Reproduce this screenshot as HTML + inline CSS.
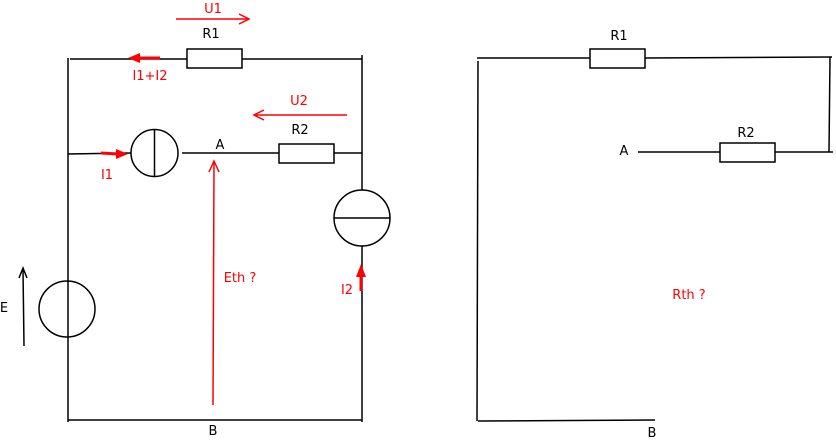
<!DOCTYPE html>
<html><head><meta charset="utf-8"><style>
html,body{margin:0;padding:0;background:#fff;}
svg{display:block;}
text{font-family:"DejaVu Sans","Liberation Sans",sans-serif;font-size:13px;}
</style></head><body>
<svg width="836" height="441" viewBox="0 0 836 441" xmlns="http://www.w3.org/2000/svg">
<g stroke="#000" stroke-width="1.5" fill="none">
<!-- left circuit -->
<line x1="68" y1="58" x2="68" y2="422"/>
<line x1="70" y1="59" x2="187" y2="59"/>
<rect x="187" y="49" width="55" height="19" fill="#fff"/>
<line x1="242" y1="59" x2="362" y2="59"/>
<line x1="362" y1="55" x2="362" y2="190"/>
<line x1="68" y1="154" x2="131" y2="153"/>
<circle cx="154.5" cy="153" r="23.5" fill="#fff"/>
<line x1="154.5" y1="129.5" x2="154.5" y2="176.5"/>
<line x1="182" y1="153" x2="279" y2="153"/>
<rect x="279" y="144" width="55" height="19" fill="#fff"/>
<line x1="334" y1="153" x2="362" y2="153"/>
<circle cx="362" cy="218" r="28" fill="#fff"/>
<line x1="334" y1="218" x2="390" y2="218"/>
<line x1="362" y1="246" x2="362" y2="422"/>
<line x1="68" y1="420" x2="362" y2="420"/>
<circle cx="67" cy="309" r="28" fill="none"/>
<line x1="24" y1="346" x2="23" y2="270"/>
<polyline points="19,278 23,268 27,278"/>
<!-- right circuit -->
<line x1="478" y1="61" x2="477" y2="421"/>
<line x1="477" y1="58" x2="590" y2="58"/>
<rect x="590" y="49" width="55" height="19" fill="#fff"/>
<line x1="645" y1="58" x2="832" y2="57"/>
<line x1="830" y1="57" x2="829" y2="152"/>
<line x1="833" y1="152" x2="775" y2="152"/>
<rect x="720" y="143" width="55" height="19" fill="#fff"/>
<line x1="638" y1="152" x2="720" y2="152"/>
<line x1="478" y1="421" x2="655" y2="420"/>
</g>
<g stroke="#f00" fill="none" stroke-width="1.5">
<line x1="176" y1="19" x2="249" y2="19"/>
<polyline points="239,14 249,19 239,24"/>
<line x1="347" y1="115" x2="254" y2="115"/>
<polyline points="264,110 254,115 264,120"/>
<line x1="213" y1="405" x2="214" y2="162"/>
<polyline points="209,172 214,161 219,172"/>
<line x1="160" y1="58" x2="138" y2="58" stroke-width="3"/>
<line x1="101" y1="153" x2="118" y2="154" stroke-width="3"/>
<line x1="361" y1="291" x2="361" y2="275" stroke-width="3"/>
</g>
<g fill="#f00">
<polygon points="128,58 140,53 140,63"/>
<polygon points="128,154 116,149 116,159"/>
<polygon points="361,264 356,277 366,277"/>
</g>
<g fill="#000">
<text x="211" y="38" text-anchor="middle">R1</text>
<text x="300" y="134" text-anchor="middle">R2</text>
<text x="220" y="149" text-anchor="middle">A</text>
<text x="213" y="435" text-anchor="middle">B</text>
<text x="4" y="312" text-anchor="middle">E</text>
<text x="619" y="40" text-anchor="middle">R1</text>
<text x="746" y="137" text-anchor="middle">R2</text>
<text x="624" y="155" text-anchor="middle">A</text>
<text x="652" y="437" text-anchor="middle">B</text>
</g>
<g fill="#f00">
<text x="213" y="13" text-anchor="middle">U1</text>
<text x="299" y="105" text-anchor="middle">U2</text>
<text x="150" y="80" text-anchor="middle">I1+I2</text>
<text x="107" y="179" text-anchor="middle">I1</text>
<text x="240" y="282" text-anchor="middle">Eth ?</text>
<text x="347" y="294" text-anchor="middle">I2</text>
<text x="689" y="299" text-anchor="middle">Rth ?</text>
</g>
</svg>
</body></html>
